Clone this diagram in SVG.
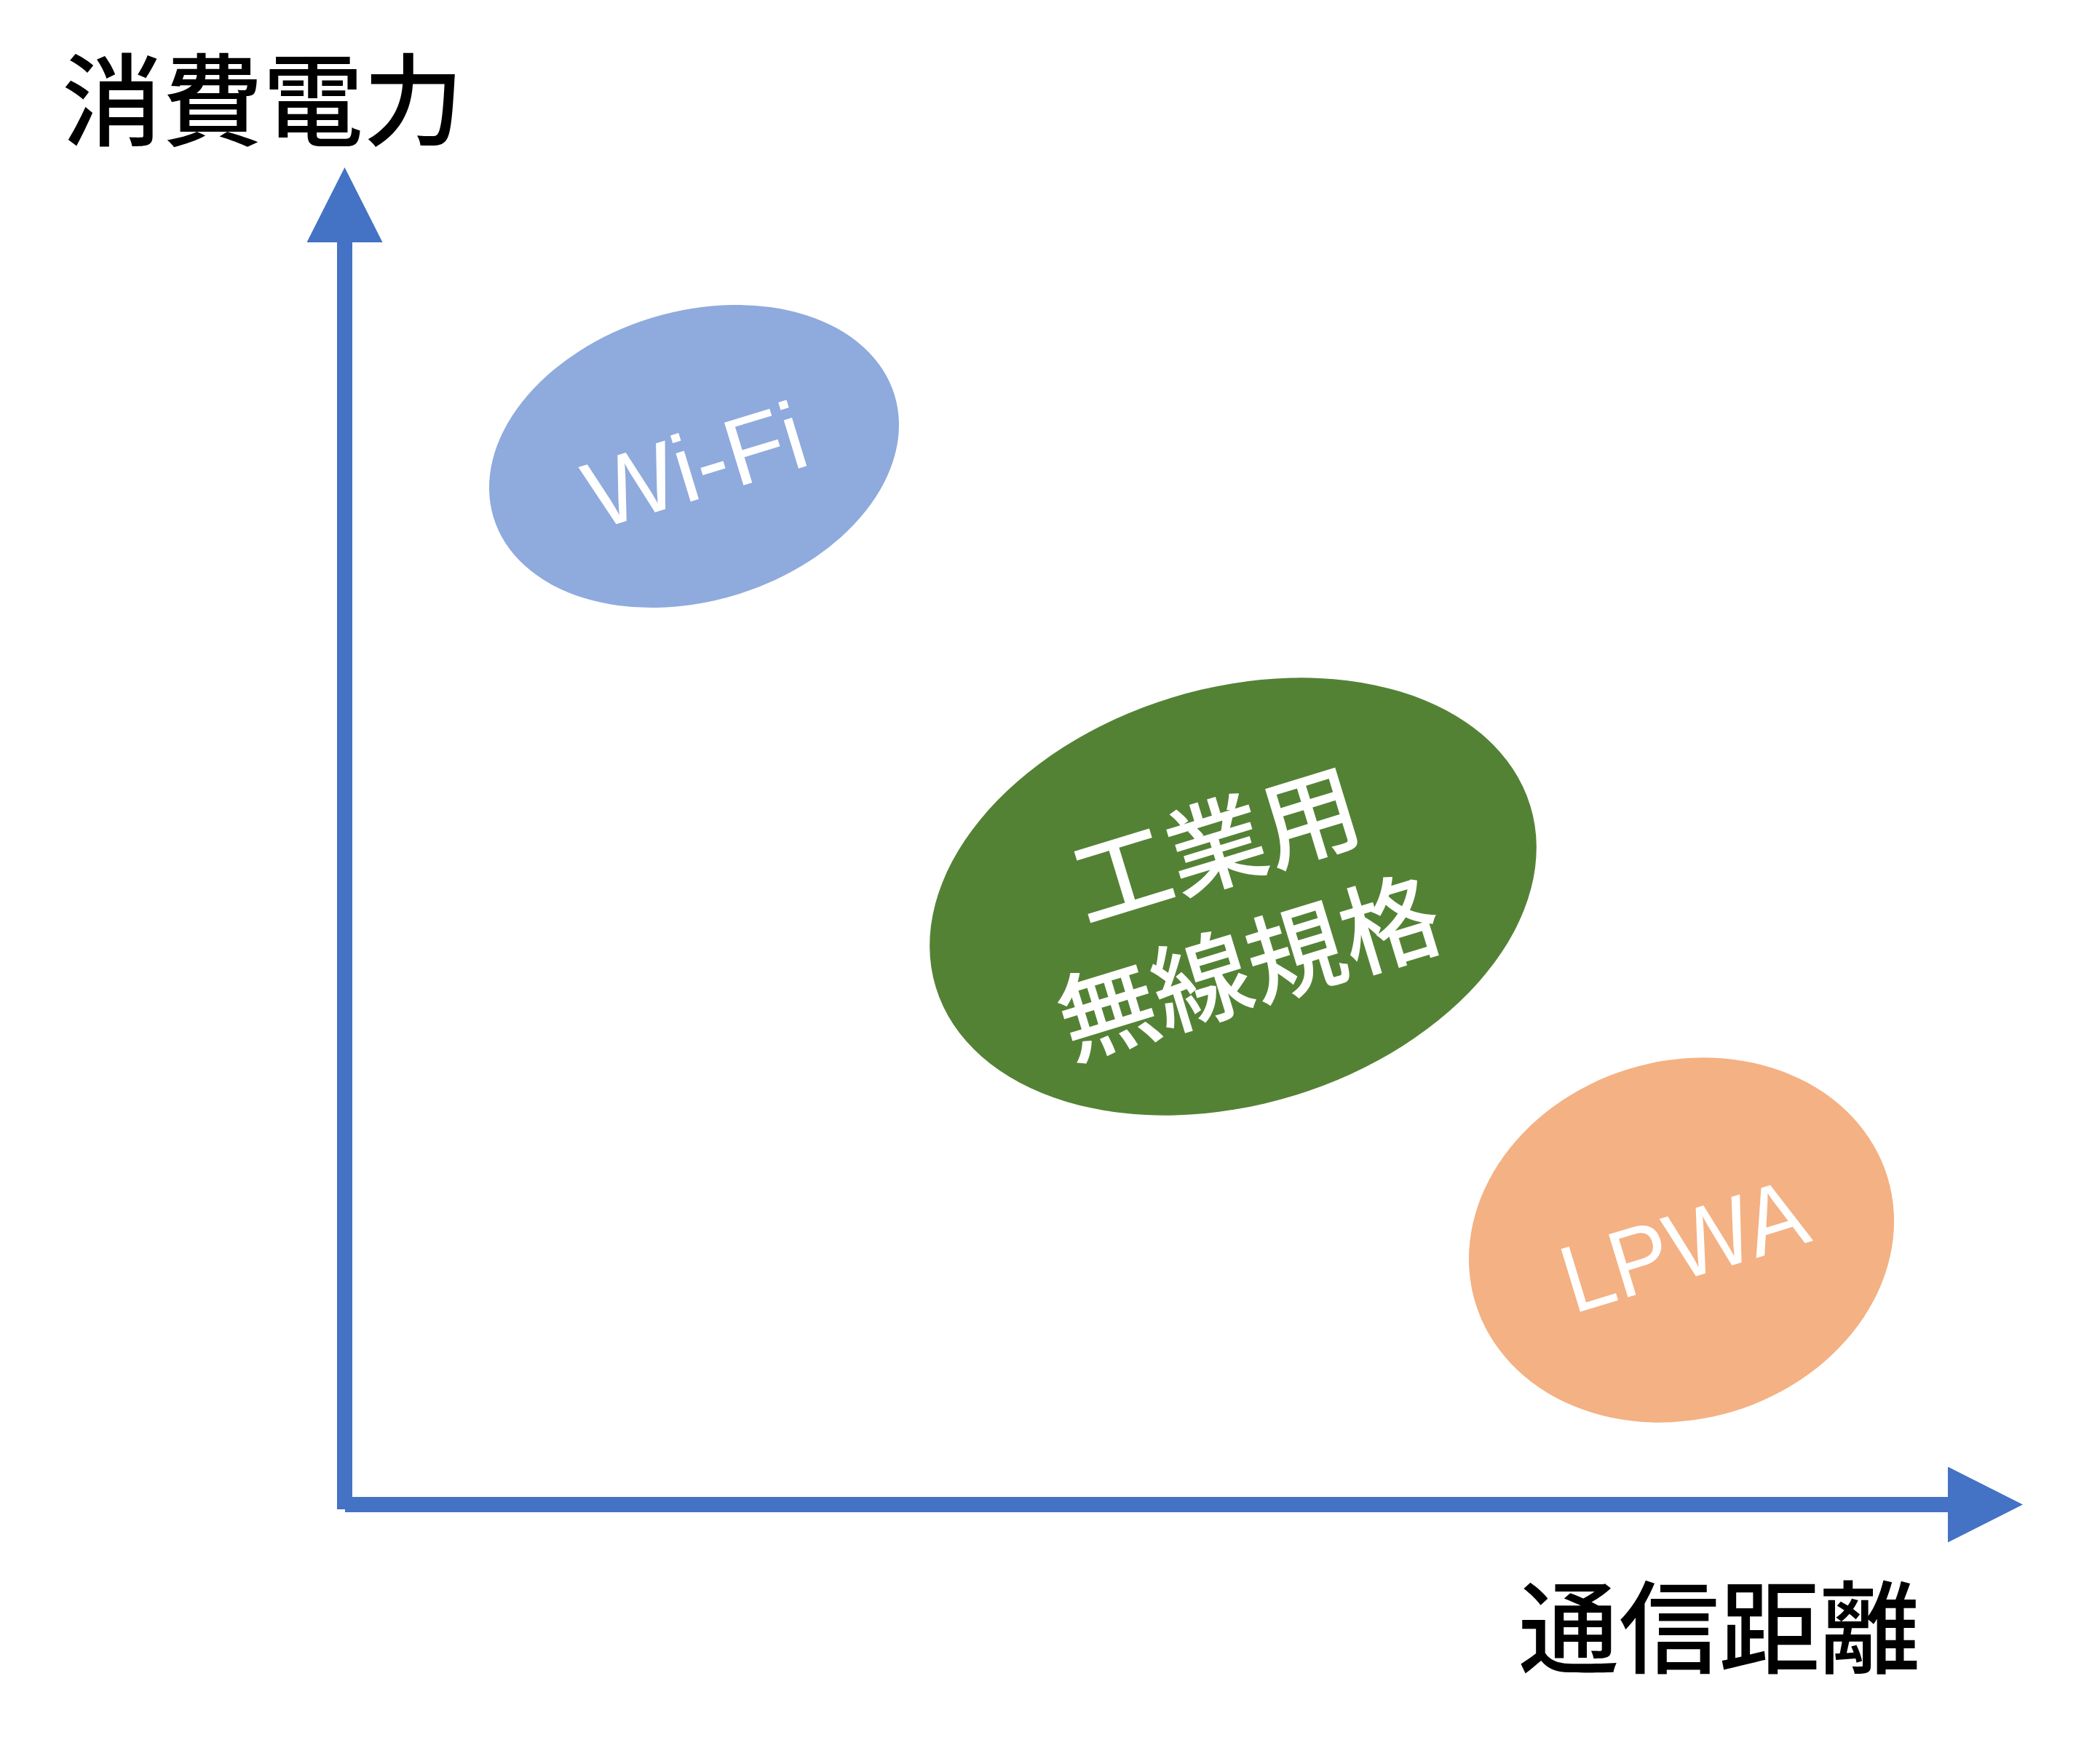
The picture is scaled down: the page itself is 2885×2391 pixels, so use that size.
<svg xmlns="http://www.w3.org/2000/svg" width="2885" height="2391" viewBox="0 0 2885 2391">
  <style>
    .axis { stroke: #4472C4; stroke-width: 21; fill: none; marker-end: url(#arrow); }
    .axislabel { font-family: "Noto Sans CJK JP", "Noto Sans CJK SC", sans-serif; font-size: 138px; font-weight: 500; fill: #000000; }
    .lat { font-family: "Liberation Sans", Arial, sans-serif; font-size: 131px; fill: #FFFFFF; text-anchor: middle; }
    .cjk { font-family: "Noto Sans CJK JP", "Noto Sans CJK SC", sans-serif; font-size: 135px; font-weight: 500; fill: #FFFFFF; text-anchor: middle; }
  </style>
  <defs>
    <marker id="arrow" markerUnits="userSpaceOnUse" markerWidth="104" markerHeight="104" viewBox="0 -52 103 104" refX="0" refY="0" orient="auto">
      <path d="M0,-52 L103,0 L0,52 Z" fill="#4472C4"/>
    </marker>
  </defs>
  <rect x="0" y="0" width="2885" height="2391" fill="#FFFFFF"/>

  <g id="wifi">
    <g transform="translate(953.5,627) rotate(-17)">
      <ellipse cx="0" cy="0" rx="288" ry="199" fill="#8FAADC"/>
      <text class="lat" x="-2" y="58" textLength="310" lengthAdjust="spacingAndGlyphs">Wi-Fi</text>
    </g>
  </g>

  <g id="industrial">
    <g transform="translate(1694,1232) rotate(-17)">
      <ellipse cx="0" cy="0" rx="427" ry="286" fill="#548235"/>
      <text class="cjk" x="-2" y="-24">工業用</text>
      <text class="cjk" x="-8" y="149">無線規格</text>
    </g>
  </g>

  <g id="lpwa">
    <g transform="translate(2310,1704) rotate(-17)">
      <ellipse cx="0" cy="0" rx="296" ry="246" fill="#F4B183"/>
      <text class="lat" x="0.5" y="53.5" textLength="345" lengthAdjust="spacingAndGlyphs">LPWA</text>
    </g>
  </g>

  <g id="connectors">
    <line class="axis" x1="473.5" y1="2074" x2="473.5" y2="333"/>
    <line class="axis" x1="474" y1="2067.5" x2="2676" y2="2067.5"/>
  </g>

  <g id="label-y">
    <text class="axislabel" x="85" y="189">消費電力</text>
  </g>
  <g id="label-x">
    <text class="axislabel" x="2086" y="2288">通信距離</text>
  </g>
</svg>
